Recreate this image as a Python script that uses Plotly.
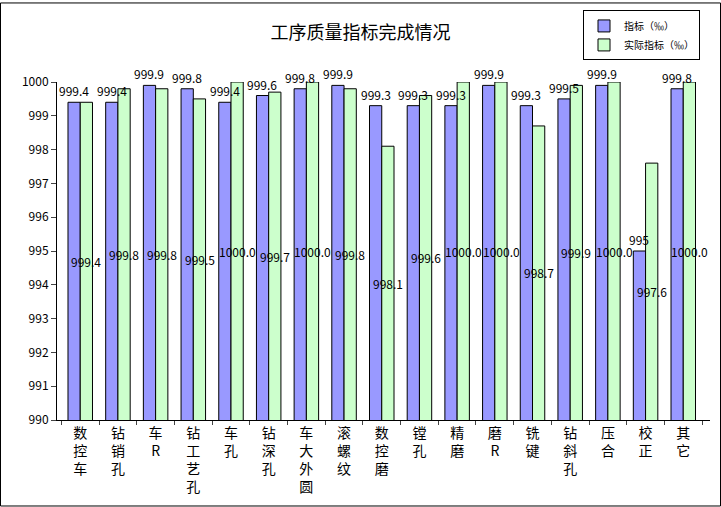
import plotly.graph_objects as go

categories = ['数控车', '钻销孔', '车R', '钻工艺孔', '车孔', '钻深孔', '车大外圆', '滚螺纹',
              '数控磨', '镗孔', '精磨', '磨R', '铣键', '钻斜孔', '压合', '校正', '其它']
target = [999.4, 999.4, 999.9, 999.8, 999.4, 999.6, 999.8, 999.9,
          999.3, 999.3, 999.3, 999.9, 999.3, 999.5, 999.9, 995, 999.8]
actual = [999.4, 999.8, 999.8, 999.5, 1000.0, 999.7, 1000.0, 999.8,
          998.1, 999.6, 1000.0, 1000.0, 998.7, 999.9, 1000.0, 997.6, 1000.0]
y_min, y_max = 990, 1000

# vertical category labels, one character per line
tick_text = ['<br>'.join(c) for c in categories]

W, H = 721, 507
ml, mr, mt, mb = 57, 11, 80, 87
pw, ph = W - ml - mr, H - mt - mb
gap = 0.35
bar_px = pw / len(categories) * (1 - gap) / 2

fig = go.Figure()
fig.add_trace(go.Bar(x=categories, y=target, name='指标（‰）',
                     marker=dict(color='#9999FF', line=dict(color='black', width=1))))
fig.add_trace(go.Bar(x=categories, y=actual, name='实际指标（‰）',
                     marker=dict(color='#CCFFCC', line=dict(color='black', width=1))))

# value labels: target above its bar, actual in the middle of its bar
for c, v in zip(categories, target):
    fig.add_annotation(x=c, y=v, text=f'{v:g}', showarrow=False, yanchor='bottom',
                       xshift=-bar_px / 2, yshift=1, font=dict(size=12))
for c, v in zip(categories, actual):
    fig.add_annotation(x=c, y=(y_min + v) / 2, text=f'{v:.1f}', showarrow=False,
                       xshift=bar_px / 2, font=dict(size=12))

fig.add_shape(type='rect', xref='paper', yref='paper',
              x0=(-ml + 0.5) / pw, x1=(pw + mr - 0.5) / pw,
              y0=(-mb + 0.5) / ph, y1=(ph + mt - 0.5) / ph,
              line=dict(color='black', width=1))

fig.update_layout(
    width=W, height=H,
    margin=dict(l=ml, r=mr, t=mt, b=mb),
    barmode='group', bargap=gap, bargroupgap=0,
    plot_bgcolor='white', paper_bgcolor='white',
    font=dict(family='Noto Sans CJK SC, SimSun', size=12, color='black'),
    title=dict(text='工序质量指标完成情况', x=0.5, xref='container',
               y=1 - 33 / H, yanchor='middle', font=dict(size=18)),
    legend=dict(x=(700 - ml) / pw, xanchor='right',
                y=1 + (mt - 8) / ph, yanchor='top',
                bordercolor='black', borderwidth=1, font=dict(size=10),
                tracegroupgap=0, itemwidth=30),
    showlegend=True,
)
fig.update_xaxes(type='category', tickvals=categories, ticktext=tick_text,
                 ticks='outside', tickson='boundaries', ticklen=4,
                 showline=True, linecolor='black', showgrid=False,
                 tickfont=dict(size=14))
fig.update_yaxes(range=[y_min, y_max], dtick=1, ticks='outside', ticklen=5,
                 showline=True, linecolor='black', showgrid=False, zeroline=False,
                 tickfont=dict(size=12))

fig.write_html('out.html', config={'displayModeBar': False},
               post_script="document.body.style.margin='0';")
